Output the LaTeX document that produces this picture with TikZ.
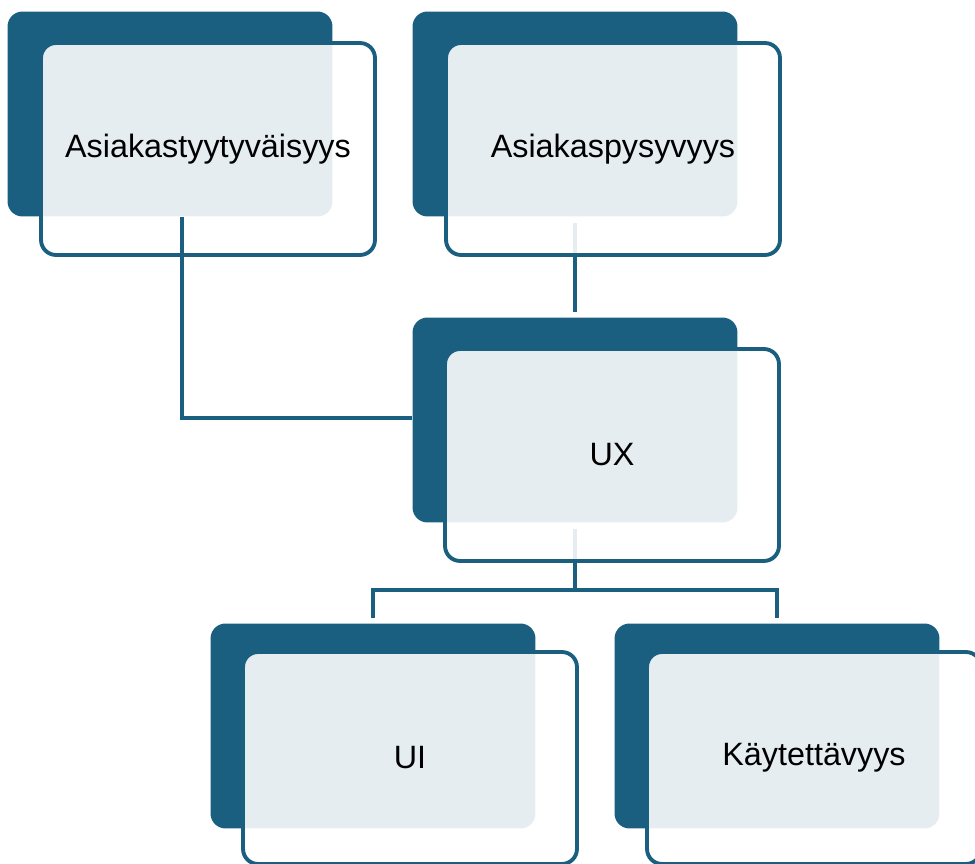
\documentclass[tikz,border=0pt]{standalone}
\usepackage{fontspec}
\setmainfont{Liberation Sans}
\definecolor{uxblue}{HTML}{1A5F80}
\tikzset{
  back/.style={rectangle, rounded corners=0.3cm, fill=uxblue, inner sep=0pt,
    minimum width=6.5cm, minimum height=4.1cm},
  front/.style={rectangle, rounded corners=0.3cm, draw=uxblue, line width=2.2pt,
    fill=white, fill opacity=0.89, text opacity=1, inner sep=0pt,
    minimum width=6.68cm, minimum height=4.24cm, font=\fontsize{18.4}{20}\selectfont},
  link/.style={draw=uxblue, line width=2.1pt}
}
\begin{document}
\begin{tikzpicture}[x=0.02cm, y=-0.02cm]
\useasboundingbox (0,0) rectangle (975,864);

% dark cards behind
\node[back] (sat-b) at (170,114) {};
\node[back] (ret-b) at (575,114) {};
\node[back] (ux-b) at (575,420) {};
\node[back] (ui-b) at (373,726) {};
\node[back] (use-b) at (777,726) {};

% links under the light cards
\coordinate (fork) at (575,590);
\draw[link, shorten <=0.12cm, shorten >=0.1cm] (ret-b.south) -- (ux-b.north);
\draw[link, shorten <=0.12cm] (ux-b.south) -- (fork);
\draw[link, shorten <=0.1cm, shorten >=0.1cm] (ui-b.north) |- (fork) -| (use-b.north);

% light cards
\node[front] (sat) at (208,149) {Asiakastyytyväisyys};
\node[front] (ret) at (613,149) {Asiakaspysyvyys};
\node[front] (ux) at (612,455) {UX};
\node[front] (ui) at (410,758) {UI};
\node[front] (use) at (814,758) {Käytettävyys};

% this one lies on top
\coordinate (bend) at (182,418);
\draw[link] (bend |- sat-b.south) -- (bend) -- (bend -| ux-b.west);

\end{tikzpicture}
\end{document}
